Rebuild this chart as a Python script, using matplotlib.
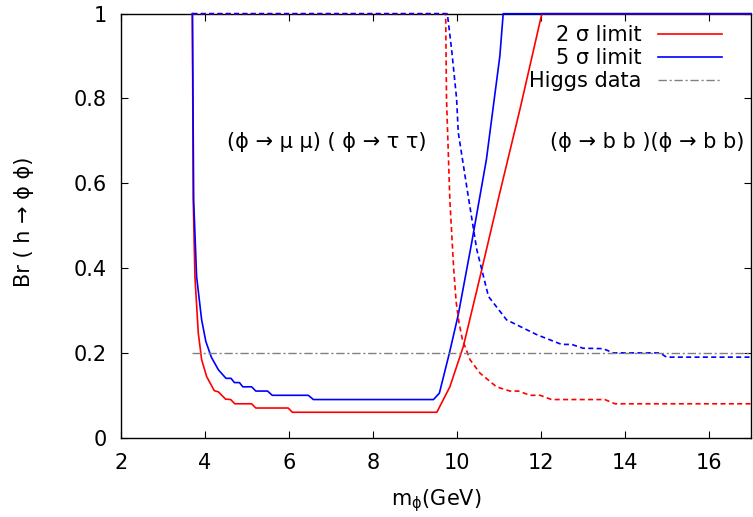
import matplotlib
matplotlib.use("Agg")
import matplotlib.pyplot as plt

plt.rcParams['font.family'] = ['DejaVu Sans']
plt.rcParams['mathtext.fontset'] = 'dejavusans'

# 2 sigma limit (solid red)
red_x = [3.70, 3.72, 3.76, 3.84, 3.92, 4.04, 4.22, 4.32, 4.49, 4.61, 4.71, 5.11, 5.21,
         5.98, 6.08, 9.52, 9.83, 10.15, 10.55, 11.02, 11.50, 12.02, 17.0]
red_y = [1.0, 0.56, 0.38, 0.247, 0.184, 0.144, 0.111, 0.108, 0.091, 0.09, 0.08, 0.08, 0.07,
         0.07, 0.06, 0.06, 0.12, 0.215, 0.38, 0.578, 0.775, 1.0, 1.0]

# 5 sigma limit (solid blue)
blue_x = [3.70, 3.73, 3.80, 3.92, 4.02, 4.15, 4.32, 4.50, 4.62, 4.70, 4.82, 4.90, 5.11, 5.21,
          5.49, 5.60, 6.46, 6.58, 9.44, 9.58, 9.82, 10.03, 10.35, 10.70, 11.02, 11.10, 17.0]
blue_y = [1.0, 0.56, 0.38, 0.278, 0.227, 0.19, 0.16, 0.14, 0.14, 0.13, 0.13, 0.12, 0.12, 0.11,
          0.11, 0.10, 0.10, 0.09, 0.09, 0.105, 0.2, 0.29, 0.46, 0.656, 0.9, 1.0, 1.0]

# 2 sigma limit, b b channel (dashed red)
red_d_x = [3.70, 9.73, 9.75, 9.83, 9.92, 9.98, 10.05, 10.13, 10.31, 10.55, 10.94, 11.26, 11.46,
           11.74, 11.98, 12.25, 13.52, 13.76, 17.0]
red_d_y = [1.0, 1.0, 0.80, 0.56, 0.40, 0.32, 0.27, 0.231, 0.184, 0.152, 0.12, 0.11, 0.11,
           0.10, 0.10, 0.09, 0.09, 0.08, 0.08]

# 5 sigma limit, b b channel (dashed blue)
blue_d_x = [3.70, 9.77, 9.87, 9.99, 10.03, 10.23, 10.47, 10.75, 11.18, 11.90, 12.49, 12.73,
            13.00, 13.48, 13.72, 14.83, 14.99, 17.0]
blue_d_y = [1.0, 1.0, 0.917, 0.80, 0.72, 0.593, 0.444, 0.333, 0.278, 0.243, 0.22, 0.22,
            0.211, 0.21, 0.20, 0.20, 0.19, 0.19]

# Higgs data
higgs_x = [3.70, 17.0]
higgs_y = [0.2, 0.2]

x_ticks = [2, 4, 6, 8, 10, 12, 14, 16]
y_ticks = [0, 0.2, 0.4, 0.6, 0.8, 1]
y_tick_labels = ['0', '0.2', '0.4', '0.6', '0.8', '1']

FS = 15

fig = plt.figure(figsize=(7.53, 5.17), dpi=100)
ax = fig.add_axes([121/753, 1 - 437.7/517, 630/753, (437.7 - 13.7)/517])

lw = 1.2
l2, = ax.plot(red_x, red_y, color='#ff0000', lw=lw, label='2 σ limit', zorder=3, clip_on=False)
l5, = ax.plot(blue_x, blue_y, color='#0000ff', lw=lw, label='5 σ limit', zorder=3, clip_on=False)
ax.plot(red_d_x, red_d_y, color='#ff0000', lw=lw, dashes=(3, 2), zorder=3, clip_on=False)
ax.plot(blue_d_x, blue_d_y, color='#0000ff', lw=lw, dashes=(3, 2), zorder=3, clip_on=False)
lh, = ax.plot(higgs_x, higgs_y, color='#808080', lw=1.0, dashes=(6, 2, 1.5, 2),
              label='Higgs data', zorder=3)

ax.set_xlim(2, 17)
ax.set_ylim(0, 1)
ax.set_xticks(x_ticks)
ax.set_yticks(y_ticks)
ax.set_yticklabels(y_tick_labels)
ax.tick_params(direction='in', length=5, width=0.8, top=True, right=True,
               labelsize=FS)
ax.tick_params(axis='x', pad=11)
ax.tick_params(axis='y', pad=10)
for s in ax.spines.values():
    s.set_linewidth(1.0)

ax.set_xlabel(r'm$_{\mathrm{ϕ}}$(GeV)', fontsize=FS, va='baseline')
ax.xaxis.set_label_coords(0.5, (437.7 - 505) / 424)
ax.set_ylabel('Br ( h → ϕ ϕ)', fontsize=FS, va='center')
ax.yaxis.set_label_coords((23.5 - 121) / 630, (437.7 - 222) / 424)

ax.text(4.52, 0.697, '(ϕ → μ μ) ( ϕ → τ τ)', fontsize=FS, ha='left', va='center')
ax.text(12.21, 0.697, '(ϕ → b b )(ϕ → b b)', fontsize=FS, ha='left', va='center', clip_on=False)

leg = ax.legend(handles=[l2, l5, lh], loc='upper right', bbox_to_anchor=(0.954, 0.973),
                frameon=False, markerfirst=False, fontsize=FS, handlelength=3.08,
                handletextpad=0.77, labelspacing=0.15, borderaxespad=0, borderpad=0)
for t in leg.get_texts():
    t.set_ha('right')

fig.savefig('out.png', dpi=100)
